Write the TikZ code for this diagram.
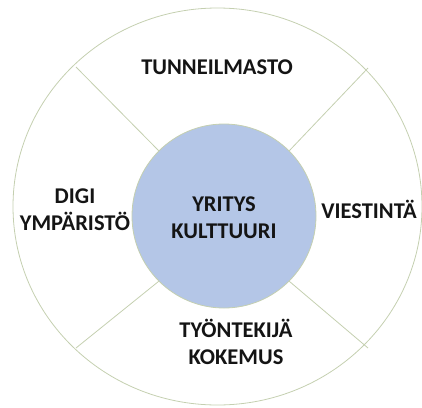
\documentclass[tikz,border=0pt]{standalone}
\usepackage{fontspec}
\setmainfont{Carlito}
\usepackage{tikz}
\usetikzlibrary{positioning}
\definecolor{rimgreen}{RGB}{196,207,176}
\definecolor{coreblue}{RGB}{180,198,231}
\tikzset{
  rim/.style={draw=rimgreen, line width=0.8pt},
  lbl/.style={align=center, font=\bfseries\fontsize{22.5}{27}\selectfont, text=black!92}
}

\begin{document}
\begin{tikzpicture}[x=1pt, y=-1pt]
      \useasboundingbox (0,0) rectangle (422,407);
      % outer ring and core
      \draw[rim] (217.5,206.5) ellipse [x radius=204.5, y radius=198.5];
      \node[rim, circle, fill=coreblue, minimum size=184pt, inner sep=0pt] (core) at (224,216) {};
      \coordinate (tl) at (76,67);
      \coordinate (tr) at (368,68);
      \coordinate (bl) at (76,348);
      \coordinate (br) at (368,348);
      \draw[rim] (tl) -- (core.135);
      \draw[rim] (tr) -- (core.45);
      \draw[rim] (bl) -- (core.225);
      \draw[rim] (br) -- (core.315);
      % labels
      \node[lbl] (kult) at (224,218) {YRITYS\\KULTTUURI};
      \node[lbl] (tunn) at (217,67) {TUNNEILMASTO};
      \node[lbl] (digi) at (75,210) {DIGI\\YMPÄRISTÖ};
      \node[lbl] (vies) at (369,209) {VIESTINTÄ};
      \node[lbl] (tyon) at (236,342) {TYÖNTEKIJÄ\\KOKEMUS};
    \end{tikzpicture}
\end{document}
